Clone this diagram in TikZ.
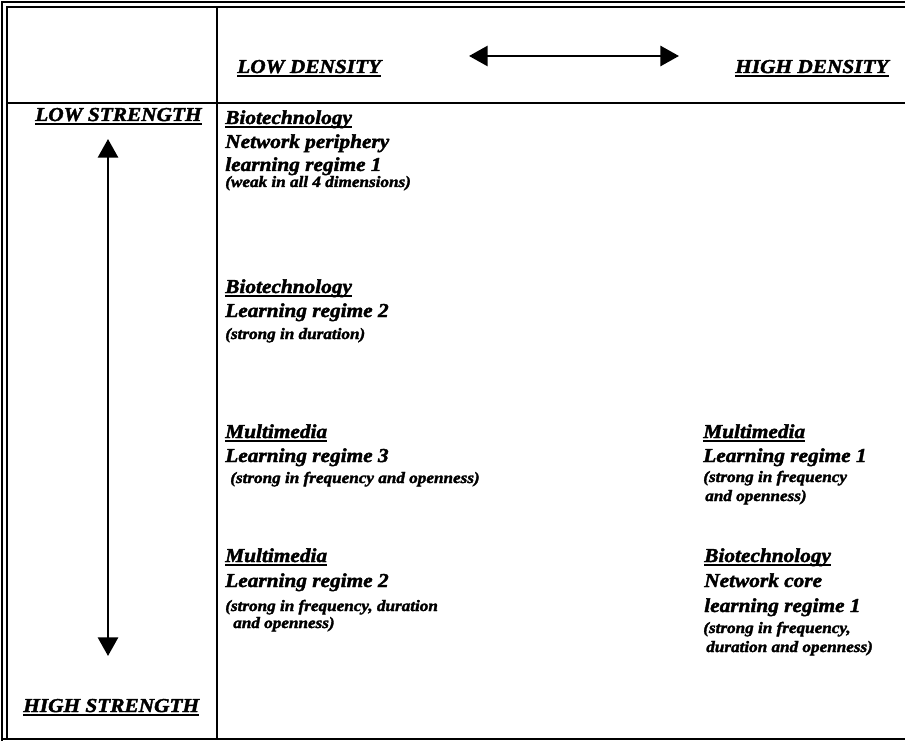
\documentclass[tikz,border=0pt]{standalone}
\usepackage{fontspec}
\setmainfont[FakeStretch=1.08,BoldItalicFeatures={FakeBold=2}]{Liberation Serif}
\usetikzlibrary{arrows.meta}

\newlength\ulwd
\newcommand\ulword[1]{\settowidth\ulwd{#1}\rlap{\rule[-3.2pt]{\ulwd}{1.8pt}}#1}

\begin{document}
\begin{tikzpicture}[x=0.75pt,y=-0.75pt,>={Triangle[length=14pt,width=15pt]},
  rulethin/.style={line width=1.5pt},
  rulethick/.style={line width=2.2pt},
  big/.style={font=\bfseries\itshape\fontsize{14.8}{16}\selectfont,inner sep=0pt,anchor=base west},
  small/.style={font=\bfseries\itshape\fontsize{11.9}{13}\selectfont,inner sep=0pt,anchor=base west}]
\useasboundingbox (0,0) rectangle (905,741);
% The frame
\draw[rulethin] (2,741) -- (2,2) -- (905,2);
\draw[rulethin] (7,739) -- (7,7) -- (905,7);
\draw[rulethick] (2,739) -- (905,739);
\draw[rulethick] (7,103) -- (905,103);
\draw[rulethick] (217,7) -- (217,739);
% The axes
\node[big] (lowdens) at (237,73) {\ulword{LOW DENSITY}};
\node[big] (highdens) at (735,73) {\ulword{HIGH DENSITY}};
\node[big] (lowstr) at (35,121) {\ulword{LOW STRENGTH}};
\node[big] (highstr) at (23,712) {\ulword{HIGH STRENGTH}};
\coordinate (dleft) at (469,56);
\coordinate (dright) at (679,56);
\coordinate (stop) at (108,139);
\coordinate (sbot) at (108,656);
\draw[<->,line width=2.2pt] (dleft) -- (dright);
\draw[<->,line width=2.2pt] (stop) -- (sbot);
% Low density column
\node[big] (bioA) at (225,124) {\ulword{Biotechnology}};
\node[big] (bioAa) at (225,148) {Network periphery};
\node[big] (bioAb) at (225,171) {learning regime 1};
\node[small] (bioAc) at (225,187) {(weak in all 4 dimensions)};
\node[big] (bioB) at (225,293) {\ulword{Biotechnology}};
\node[big] (bioBa) at (225,317) {Learning regime 2};
\node[small] (bioBb) at (225,339) {(strong in duration)};
\node[big] (mulA) at (225,438) {\ulword{Multimedia}};
\node[big] (mulAa) at (225,462) {Learning regime 3};
\node[small] (mulAb) at (230,483) {(strong in frequency and openness)};
\node[big] (mulB) at (225,562) {\ulword{Multimedia}};
\node[big] (mulBa) at (225,587) {Learning regime 2};
\node[small] (mulBb) at (225,611) {(strong in frequency, duration};
\node[small] (mulBc) at (233,628) {and openness)};
% High density column
\node[big] (mulC) at (703,438) {\ulword{Multimedia}};
\node[big] (mulCa) at (703,462) {Learning regime 1};
\node[small] (mulCb) at (703,482) {(strong in frequency};
\node[small] (mulCc) at (705,501) {and openness)};
\node[big] (bioC) at (704,562) {\ulword{Biotechnology}};
\node[big] (bioCa) at (704,587) {Network core};
\node[big] (bioCb) at (704,612) {learning regime 1};
\node[small] (bioCc) at (703,633) {(strong in frequency,};
\node[small] (bioCd) at (706,652) {duration and openness)};
\end{tikzpicture}
\end{document}
